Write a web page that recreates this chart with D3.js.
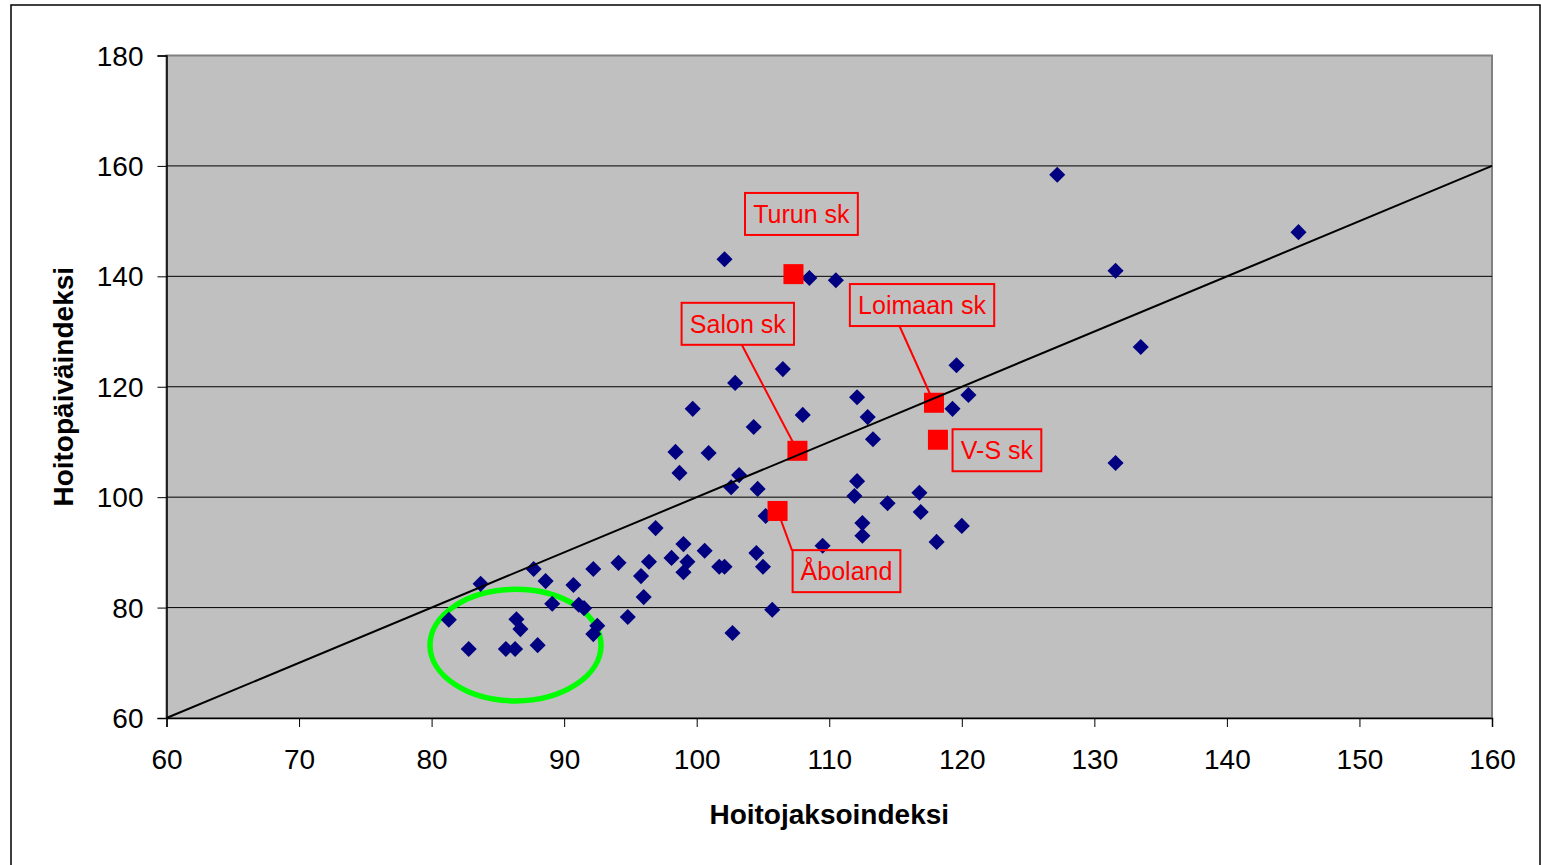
<!DOCTYPE html>
<html>
<head>
<meta charset="utf-8">
<script src="https://cdn.jsdelivr.net/npm/d3@7"></script>
<style>
  body { margin: 0; background: #fff; }
  svg { font-family: "Liberation Sans", Arial, sans-serif; }
</style>
</head>
<body>
<div id="chart"></div>
<script>
// hoitojaksoindeksi (x) vs hoitopäiväindeksi (y), one pair per unit
var xVals = [81.3, 82.8, 83.7, 85.6, 86.3, 86.4, 86.7, 87.7, 88.0, 88.6,
             89.1, 90.7, 91.1, 91.5, 92.2, 92.5, 92.2, 94.1, 94.8, 95.8,
             96.4, 96.0, 96.9, 99.0, 98.1, 99.3, 99.0, 100.6, 101.7, 102.1,
             104.5, 105.0, 105.7, 102.7, 98.4, 100.9, 98.7, 99.7, 102.9, 106.5,
             104.3, 108.0, 103.2, 102.6, 104.6, 105.2, 102.1, 108.5, 110.5, 112.1,
             112.9, 113.3, 119.6, 120.5, 119.3, 112.1, 111.9, 114.4, 116.8, 116.9,
             112.5, 112.5, 120.0, 118.1, 109.5, 127.2, 145.4, 131.6, 133.5, 131.6];
var yVals = [77.8, 72.5, 84.3, 72.5, 72.5, 77.9, 76.1, 87.0, 73.2, 84.8,
             80.7, 84.1, 80.5, 79.9, 87.0, 76.7, 75.2, 88.1, 78.3, 85.7,
             88.3, 81.9, 94.4, 91.5, 89.0, 88.3, 86.4, 90.3, 87.4, 87.4,
             89.9, 87.4, 79.6, 75.4, 108.2, 108.0, 104.4, 116.0, 120.7, 123.2,
             112.7, 114.9, 104.0, 101.8, 101.5, 96.6, 143.1, 139.7, 139.3, 118.1,
             114.5, 110.5, 123.9, 118.5, 116.0, 102.9, 100.2, 98.9, 100.8, 97.3,
             95.3, 93.0, 94.8, 91.9, 91.2, 158.4, 148.0, 141.0, 127.2, 106.2];

// highlighted units
var hlNames = ["Turun sk", "Salon sk", "Loimaan sk", "V-S sk", "Åboland"];
var hlX = [107.3, 107.6, 117.9, 118.2, 106.1];
var hlY = [140.4, 108.4, 117.1, 110.4, 97.5];
// label box centres and leader starts (data units)
var lblX = [107.9, 103.1, 117.0, 122.65, 111.3];
var lblY = [151.3, 131.4, 134.8, 108.5, 86.6];
var leadX = [null, 103.4, 115.3, null, 107.2];
var leadY = [null, 127.6, 131.0, null, 90.3];

var xTicks = [60, 70, 80, 90, 100, 110, 120, 130, 140, 150, 160];
var yTicks = [60, 80, 100, 120, 140, 160, 180];

var W = 1541, H = 865;
var svg = d3.select("#chart").append("svg")
  .attr("width", W).attr("height", H);

var x = d3.scaleLinear().domain([60, 160]).range([166.5, 1492]);
var y = d3.scaleLinear().domain([60, 180]).range([718, 55.5]);

// outer frame
svg.append("rect")
  .attr("x", 11).attr("y", 5).attr("width", 1529).attr("height", 900)
  .attr("fill", "none").attr("stroke", "#000").attr("stroke-width", 1.5);

// plot area
svg.append("rect")
  .attr("x", x(60)).attr("y", y(180))
  .attr("width", x(160) - x(60)).attr("height", y(60) - y(180))
  .attr("fill", "#c0c0c0").attr("stroke", "#808080").attr("stroke-width", 2);

// gridlines
svg.append("g").selectAll("line")
  .data(yTicks.filter(function(d) { return d > 60 && d < 180; }))
  .enter().append("line")
  .attr("x1", x(60)).attr("x2", x(160))
  .attr("y1", function(d) { return y(d); }).attr("y2", function(d) { return y(d); })
  .attr("stroke", "#000").attr("stroke-width", 1);

// axes
var xAxis = svg.append("g")
  .attr("transform", "translate(0," + y(60) + ")")
  .call(d3.axisBottom(x).tickValues(xTicks).tickSize(9).tickPadding(22));
var yAxis = svg.append("g")
  .attr("transform", "translate(" + x(60) + ",0)")
  .call(d3.axisLeft(y).tickValues(yTicks).tickSize(9).tickPadding(14));
[xAxis, yAxis].forEach(function(a) {
  a.select(".domain").attr("stroke", "#000").attr("stroke-width", 1.5);
  a.selectAll(".tick line").attr("stroke", "#000");
  a.selectAll("text").attr("font-size", 28).attr("fill", "#000")
    .attr("font-family", "'Liberation Sans', Arial, sans-serif");
});
yAxis.selectAll("text").attr("dy", "0.34em");

// circled group
svg.append("ellipse")
  .attr("cx", x(86.33)).attr("cy", y(73.2))
  .attr("rx", x(86.33 + 6.45) - x(86.33)).attr("ry", y(73.2) - y(73.2 + 10.1))
  .attr("fill", "none").attr("stroke", "#00ff00").attr("stroke-width", 5.5);

// all units
var pts = xVals.map(function(v, i) { return { x: v, y: yVals[i] }; });
svg.append("g").selectAll("path")
  .data(pts).enter().append("path")
  .attr("d", d3.symbol().type(d3.symbolDiamond2).size(165))
  .attr("transform", function(d) { return "translate(" + x(d.x) + "," + y(d.y) + ")"; })
  .attr("fill", "#000080");

// leader lines
var hl = hlNames.map(function(n, i) {
  return { name: n, x: hlX[i], y: hlY[i], lx: lblX[i], ly: lblY[i], sx: leadX[i], sy: leadY[i] };
});
svg.append("g").selectAll("line")
  .data(hl.filter(function(d) { return d.sx != null; }))
  .enter().append("line")
  .attr("x1", function(d) { return x(d.sx); }).attr("y1", function(d) { return y(d.sy); })
  .attr("x2", function(d) { return x(d.x); }).attr("y2", function(d) { return y(d.y); })
  .attr("stroke", "#ff0000").attr("stroke-width", 2);

// highlighted squares
svg.append("g").selectAll("rect")
  .data(hl).enter().append("rect")
  .attr("x", function(d) { return x(d.x) - 10; })
  .attr("y", function(d) { return y(d.y) - 10; })
  .attr("width", 20).attr("height", 20)
  .attr("fill", "#ff0000");

// diagonal y = x
svg.append("line")
  .attr("x1", x(60)).attr("y1", y(60))
  .attr("x2", x(160)).attr("y2", y(160))
  .attr("stroke", "#000").attr("stroke-width", 2);

// label boxes
var lab = svg.append("g").selectAll("g")
  .data(hl).enter().append("g")
  .attr("transform", function(d) { return "translate(" + x(d.lx) + "," + y(d.ly) + ")"; });
lab.append("text")
  .attr("text-anchor", "middle").attr("dy", "0.36em")
  .attr("font-size", 25).attr("fill", "#ff0000")
  .text(function(d) { return d.name; });
lab.each(function() {
  var g = d3.select(this);
  var bb = g.select("text").node().getBBox();
  g.insert("rect", "text")
    .attr("x", -bb.width / 2 - 8).attr("y", -21)
    .attr("width", bb.width + 16).attr("height", 42)
    .attr("fill", "none").attr("stroke", "#ff0000").attr("stroke-width", 2);
});

// axis titles
svg.append("text")
  .attr("x", (x(60) + x(160)) / 2).attr("y", 824)
  .attr("text-anchor", "middle")
  .attr("font-size", 28).attr("font-weight", "bold")
  .text("Hoitojaksoindeksi");
svg.append("text")
  .attr("transform", "translate(73," + (y(60) + y(180)) / 2 + ") rotate(-90)")
  .attr("text-anchor", "middle")
  .attr("font-size", 28).attr("font-weight", "bold")
  .text("Hoitopäiväindeksi");
</script>
</body>
</html>
